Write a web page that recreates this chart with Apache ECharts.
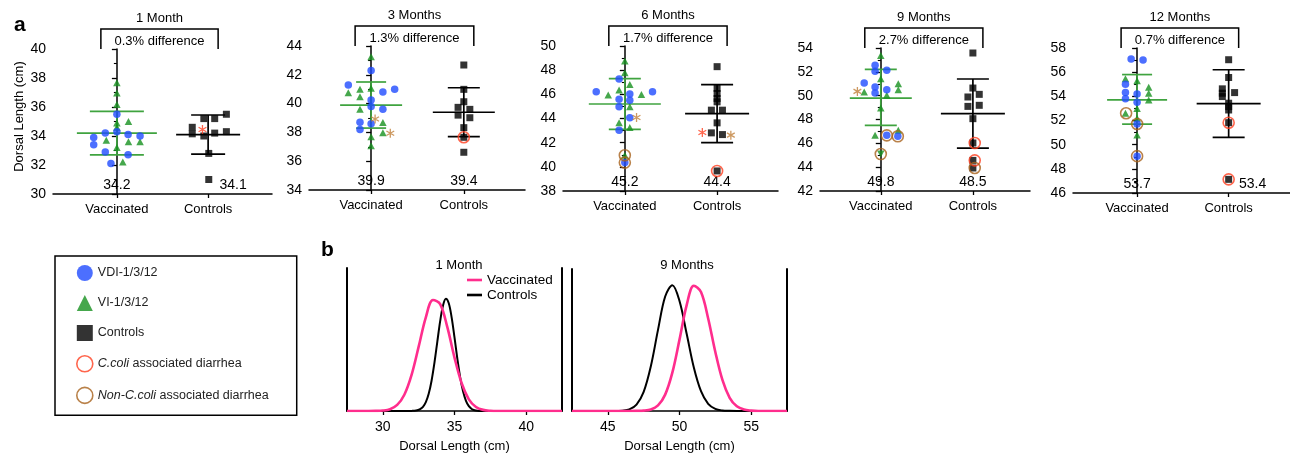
<!DOCTYPE html>
<html><head><meta charset="utf-8">
<script src="https://cdn.jsdelivr.net/npm/echarts@6/dist/echarts.min.js"></script>
<style>html,body{margin:0;padding:0;background:#fff}#c{width:1290px;height:454px}</style>
</head><body><div id="c"></div>
<script>
// ---------- DATA ----------
const panelTitles = ['1 Month', '3 Months', '6 Months', '9 Months', '12 Months'];
const differences = ['0.3% difference', '1.3% difference', '1.7% difference', '2.7% difference', '0.7% difference'];
const categories = ['Vaccinated', 'Controls'];
const yMin = [30, 34, 38, 42, 46];
const yMax = [40, 44, 50, 54, 58];
const means  = [[34.2, 34.1], [39.9, 39.4], [45.2, 44.4], [49.8, 48.5], [53.7, 53.4]];
const sdLow  = [[32.7, 32.75], [38.3, 37.7], [43.1, 42.0], [47.5, 45.6], [51.7, 50.6]];
const sdHigh = [[35.7, 35.45], [41.5, 41.1], [47.3, 46.8], [52.2, 51.4], [55.8, 56.2]];

// x = group (0 Vaccinated, 1 Controls) + jitter, y = dorsal length (cm)
const vdi = [
  [[0,35.5],[-0.127,34.2],[0,34.3],[0.123,34.1],[0.254,34.0],[-0.254,33.9],[-0.254,33.4],[-0.127,32.9],[0.123,32.7],[-0.065,32.1]],
  [[0,42.29],[-0.246,41.29],[0.254,40.99],[0.127,40.81],[0,40.25],[0,39.79],[0.127,39.6],[-0.12,38.7],[0,38.6],[-0.12,38.21]],
  [[-0.062,47.26],[-0.31,46.21],[0.30,46.21],[0.054,46.02],[-0.062,45.6],[0.054,45.52],[-0.062,44.97],[0.054,44.06],[-0.062,43.03],[0,40.35]],
  [[-0.062,52.55],[-0.062,52.04],[0.065,52.13],[-0.18,51.06],[-0.062,50.73],[-0.062,50.22],[0.065,50.5],[0.065,46.67],[0.185,46.59]],
  [[-0.065,57.09],[0.065,57.0],[-0.127,55.0],[-0.127,54.31],[0,54.2],[-0.127,53.79],[0,53.51],[0,51.71],[0,49.05]]
];
const vi = [
  [[0,37.67],[0,36.97],[0,36.17],[0,34.9],[0,34.6],[0,33.2],[-0.116,33.7],[0.127,35.0],[0.127,33.6],[0.254,33.6],[0.065,32.2]],
  [[0,43.26],[0,41.06],[-0.246,40.76],[-0.12,40.99],[-0.12,40.48],[-0.12,39.6],[0.127,38.68],[0.127,37.98],[0,37.70],[0,37.08]],
  [[0,48.76],[0,47.79],[0.054,46.82],[-0.062,46.35],[-0.18,45.94],[0.18,45.99],[0.054,44.97],[-0.062,43.64],[0.054,43.25],[0,40.96]],
  [[0,53.38],[0,51.43],[0.19,51.0],[0.19,50.5],[-0.18,50.3],[0.065,50.03],[0,48.97],[0.19,47.09],[-0.062,46.67]],
  [[-0.127,55.45],[0,55.28],[0.127,54.76],[0.127,54.26],[0.127,53.7],[0,53.0],[-0.127,52.6],[0,52.18],[0,50.79]]
];
const viInverted = [[], [], [], [[0,45.1]], []];
const controls = [
  [[0.826,34.6],[0.826,34.15],[0.953,35.2],[1.072,35.2],[1.2,35.5],[1.2,34.3],[1.072,34.2],[0.953,34.0],[1.007,32.8],[1.007,31.0]],
  [[1,42.68],[1,40.99],[1,40.13],[0.938,39.74],[1.065,39.6],[0.938,39.2],[1.065,39.02],[1,38.33],[1,37.66],[1,36.62]],
  [[1,48.29],[1,46.49],[1,46.07],[1,45.66],[1,45.38],[0.938,44.69],[1.058,44.69],[1,43.64],[0.938,42.81],[1.058,42.67],[1,39.66]],
  [[1,53.58],[1,50.64],[1.069,50.11],[0.946,49.89],[0.946,49.1],[1.069,49.19],[1,48.07],[1,46.03],[1,44.57],[1,43.93]],
  [[1,57.03],[1,55.56],[0.931,54.62],[0.931,54.26],[0.931,53.98],[1.065,54.31],[1,53.43],[1,53.15],[1,52.87],[1,51.82],[1,47.13]]
];
const cColi = [[], [[1,37.66]], [[1,39.66]], [[1.02,46.03],[1.02,44.57]], [[1,51.82],[1,47.13]]];
const nonCColi = [[], [], [[0,40.96],[0,40.35]], [[0.065,46.67],[0.185,46.59],[0,45.1],[1.02,43.93]], [[-0.12,52.6],[0,51.71],[0,49.05]]];
const asteriskRed = [[[0.938,34.45]], [], [[0.84,42.84]], [], []];
const asteriskBrown = [[], [[0.043,38.93],[0.207,37.94]], [[0.127,44.08],[1.149,42.62]], [[-0.254,50.36]], []];

// panel b: relative density curves [dorsal length (cm), relative height]
const vacc1M = [[27.5,0],[28,0],[28.5,0],[29,0],[29.5,0.001],[30,0.004],[30.5,0.016],[31,0.054],[31.5,0.145],[32,0.320],[32.5,0.573],[33,0.835],[33.5,0.989],[34,0.953],[34.5,0.747],[35,0.476],[35.5,0.247],[36,0.104],[36.5,0.036],[37,0.010],[37.5,0.002],[38,0],[38.5,0],[39,0],[39.5,0],[40,0],[40.5,0],[41,0],[41.5,0],[42,0],[42.5,0]];
const ctrl1M = [[27.5,0],[28,0],[28.5,0],[29,0],[29.5,0],[30,0],[30.5,0],[31,0],[31.5,0],[31.8,0],[32,0.001],[32.2,0.002],[32.4,0.006],[32.6,0.016],[32.8,0.037],[33,0.079],[33.2,0.153],[33.4,0.270],[33.6,0.429],[33.8,0.616],[34,0.801],[34.2,0.941],[34.4,1.0],[34.6,0.960],[34.8,0.834],[35,0.655],[35.2,0.465],[35.4,0.298],[35.6,0.173],[35.8,0.091],[36,0.043],[36.2,0.018],[36.4,0.007],[36.6,0.002],[36.8,0],[37,0],[37.5,0],[38,0],[38.5,0],[39,0],[39.5,0],[40,0],[40.5,0],[41,0],[41.5,0],[42,0],[42.5,0]];
const vacc9M = [[42.5,0],[43,0],[43.5,0],[44,0],[44.5,0],[45,0],[45.5,0],[46,0],[46.5,0],[47,0.001],[47.5,0.003],[48,0.012],[48.5,0.044],[49,0.130],[49.5,0.304],[50,0.566],[50.5,0.840],[51,0.993],[51.5,0.944],[52,0.734],[52.5,0.468],[53,0.244],[53.5,0.105],[54,0.037],[54.5,0.011],[55,0.003],[55.5,0],[56,0],[56.5,0],[57,0],[57.5,0]];
const ctrl9M = [[42.5,0],[43,0],[43.5,0],[44,0],[44.5,0],[45,0],[45.5,0],[46,0.003],[46.5,0.013],[47,0.051],[47.5,0.152],[48,0.355],[48.5,0.643],[49,0.908],[49.5,0.998],[50,0.872],[50.5,0.612],[51,0.345],[51.5,0.157],[52,0.057],[52.5,0.017],[53,0.004],[53.5,0.001],[54,0],[54.5,0],[55,0],[55.5,0],[56,0],[56.5,0],[57,0],[57.5,0]];
const densTicks1M = [30, 35, 40];
const densTicks9M = [45, 50, 55];
const densTitles = ['1 Month', '9 Months'];

// ---------- STYLE ----------
const FONT = '"Liberation Sans", Arial, Helvetica, sans-serif';
const BLUE = '#1F4BFF', GREEN = '#17911F', LINEGREEN = '#3FA33F', RED = '#FF3F1F', BROWN = '#A8621C', BROWN_AST = '#C0803A', PINK = '#FF2D8D';
const gridsA = [
  {left:53, top:49, width:219, height:145},
  {left:309, top:46, width:216, height:144},
  {left:563, top:46, width:215, height:145},
  {left:820, top:48, width:210, height:143},
  {left:1073, top:48, width:217, height:145}
];
const xRanges = [[-0.70,1.70],[-0.67,1.66],[-0.67,1.66],[-0.66,1.62],[-0.70,1.67]];
const meanHalf = [[40,32],[31,31],[36,32],[31,32],[30,32]];
const capHalf = [[27,17],[15,16],[16,16],[16,16],[15,16]];
const meanLabelShift = [[0,25],[0,0],[0,0],[0,0],[0,24]];
const ASTERISK = 'path://M5,0L5,10M0.67,2.5L9.33,7.5M0.67,7.5L9.33,2.5';

const chart = echarts.init(document.getElementById('c'), null, {renderer:'canvas'});

const grid = gridsA.slice();
grid.push({left:347, top:268, width:215, height:144});
grid.push({left:572, top:269, width:215, height:143});

const xAxis = [], yAxis = [], series = [];
for (let p = 0; p < 5; p++) {
  xAxis.push({
    type:'value', gridIndex:p, min:xRanges[p][0], max:xRanges[p][1],
    axisLine:{show:true, onZero:false, lineStyle:{color:'#000', width:1.5}},
    axisTick:{show:true, customValues:[0,1], length:4, lineStyle:{color:'#000', width:1.3}},
    axisLabel:{show:true, customValues:[0,1], formatter:v => categories[Math.round(v)], fontSize:13, color:'#000', fontFamily:FONT, margin:9},
    splitLine:{show:false}
  });
  yAxis.push({
    type:'value', gridIndex:p, min:yMin[p], max:yMax[p], interval:2,
    name: p === 0 ? 'Dorsal Length (cm)' : '', nameLocation:'middle', nameGap:27,
    nameTextStyle:{fontSize:13, color:'#000', fontFamily:FONT, padding:[0,0,0,10]},
    axisLine:{show:true, lineStyle:{color:'#000', width:1.5}},
    axisTick:{show:true, length:5, lineStyle:{color:'#000', width:1.3}},
    minorTick:{show:true, splitNumber:2, length:3, lineStyle:{color:'#000', width:1.1}},
    axisLabel:{fontSize:14, color:'#000', fontFamily:FONT, margin:7},
    splitLine:{show:false}, minorSplitLine:{show:false}
  });
}
// panel b axes
const densX = [[27.5,42.5,densTicks1M],[42.5,57.5,densTicks9M]];
const densYMax = [1.274, 1.126];
for (let k = 0; k < 2; k++) {
  xAxis.push({
    type:'value', gridIndex:5+k, min:densX[k][0], max:densX[k][1],
    name:'Dorsal Length (cm)', nameLocation:'middle', nameGap:29,
    nameTextStyle:{fontSize:13, color:'#000', fontFamily:FONT},
    axisLine:{show:true, onZero:false, lineStyle:{color:'#000', width:1.5}},
    axisTick:{show:true, customValues:densX[k][2], length:4, lineStyle:{color:'#000', width:1.3}},
    axisLabel:{show:true, customValues:densX[k][2], fontSize:14, color:'#000', fontFamily:FONT, margin:9},
    splitLine:{show:false}
  });
  for (const pos of ['left','right']) {
    yAxis.push({
      type:'value', gridIndex:5+k, position:pos, min:0, max:densYMax[k],
      axisLine:{show:true, lineStyle:{color:'#000', width:2}},
      axisTick:{show:false}, axisLabel:{show:false}, splitLine:{show:false}
    });
  }
}

function errRender(p) {
  return function (params, api) {
    const g = api.value(0);
    const pm = api.coord([g, api.value(1)]);
    const pl = api.coord([g, api.value(2)]);
    const ph = api.coord([g, api.value(3)]);
    const c = g === 0 ? LINEGREEN : '#000';
    const hw = meanHalf[p][g], cw = capHalf[p][g];
    const st = {stroke:c, lineWidth:1.7};
    return {type:'group', children:[
      {type:'line', shape:{x1:pm[0]-hw, y1:pm[1], x2:pm[0]+hw, y2:pm[1]}, style:st},
      {type:'line', shape:{x1:ph[0]-cw, y1:ph[1], x2:ph[0]+cw, y2:ph[1]}, style:st},
      {type:'line', shape:{x1:pl[0]-cw, y1:pl[1], x2:pl[0]+cw, y2:pl[1]}, style:st},
      {type:'line', shape:{x1:ph[0], y1:ph[1], x2:pl[0], y2:pl[1]}, style:st}
    ]};
  };
}
function bracketRender(p) {
  return function (params, api) {
    const a = api.coord([0, yMax[p]]), b = api.coord([1, yMax[p]]);
    const top = a[1];
    const xl = a[0] - 16, xr = b[0] + 10, yb = top - 20, cx = (xl + xr) / 2;
    return {type:'group', children:[
      {type:'polyline', shape:{points:[[xl, top], [xl, yb], [xr, yb], [xr, top]]}, style:{stroke:'#000', lineWidth:1.5, fill:null}},
      {type:'text', x:cx, y:top-31, style:{text:panelTitles[p], fill:'#000', fontSize:13, fontFamily:FONT, align:'center', verticalAlign:'middle'}},
      {type:'text', x:cx, y:top-8, style:{text:differences[p], fill:'#000', fontSize:13, fontFamily:FONT, align:'center', verticalAlign:'middle'}}
    ]};
  };
}
function meanLabelRender(p) {
  return function (params, api) {
    const g = api.value(0);
    const pt = api.coord([g, api.value(1)]);
    return {type:'text', x:pt[0] + meanLabelShift[p][g], y:pt[1] - 8.5,
      style:{text:api.value(2).toFixed(1), fill:'#000', fontSize:14, fontFamily:FONT, align:'center', verticalAlign:'middle'}};
  };
}

for (let p = 0; p < 5; p++) {
  const ax = {xAxisIndex:p, yAxisIndex:p};
  series.push(Object.assign({type:'custom', silent:true, z:2, renderItem:errRender(p),
    data:[[0, means[p][0], sdLow[p][0], sdHigh[p][0]], [1, means[p][1], sdLow[p][1], sdHigh[p][1]]]}, ax));
  series.push(Object.assign({type:'custom', silent:true, z:2, renderItem:bracketRender(p), data:[[0, yMax[p]]]}, ax));
  series.push(Object.assign({type:'custom', silent:true, z:2, renderItem:meanLabelRender(p),
    data:[[0, yMin[p], means[p][0]], [1, yMin[p], means[p][1]]]}, ax));
  series.push(Object.assign({type:'scatter', name:'VI-1/3/12', symbol:'triangle', symbolSize:[7.5,7], z:3,
    itemStyle:{color:GREEN}, data:vi[p]}, ax));
  if (viInverted[p].length) {
    series.push(Object.assign({type:'scatter', name:'VI-1/3/12', symbol:'triangle', symbolRotate:180, symbolSize:[7.5,7], z:3,
      itemStyle:{color:GREEN}, data:viInverted[p]}, ax));
  }
  series.push(Object.assign({type:'scatter', name:'VDI-1/3/12', symbol:'circle', symbolSize:7.5, z:4,
    itemStyle:{color:BLUE}, data:vdi[p]}, ax));
  series.push(Object.assign({type:'scatter', name:'Controls', symbol:'rect', symbolSize:7, z:4,
    itemStyle:{color:'#000'}, data:controls[p]}, ax));
  series.push(Object.assign({type:'scatter', name:'C.coli associated diarrhea', symbol:'circle', symbolSize:11, z:5,
    itemStyle:{color:'rgba(255,255,255,0)', borderColor:RED, borderWidth:1.6}, data:cColi[p]}, ax));
  series.push(Object.assign({type:'scatter', name:'Non-C.coli associated diarrhea', symbol:'circle', symbolSize:11, z:5,
    itemStyle:{color:'rgba(255,255,255,0)', borderColor:BROWN, borderWidth:1.6}, data:nonCColi[p]}, ax));
  series.push(Object.assign({type:'scatter', name:'asterisk-red', symbol:ASTERISK, symbolSize:9, symbolKeepAspect:true, z:5,
    itemStyle:{color:'none', borderColor:RED, borderWidth:1.3}, data:asteriskRed[p]}, ax));
  series.push(Object.assign({type:'scatter', name:'asterisk-brown', symbol:ASTERISK, symbolSize:9, symbolKeepAspect:true, z:5,
    itemStyle:{color:'none', borderColor:BROWN_AST, borderWidth:1.3}, data:asteriskBrown[p]}, ax));
}
// density curves
const dens = [[ctrl1M, vacc1M], [ctrl9M, vacc9M]];
for (let k = 0; k < 2; k++) {
  series.push({type:'line', name:'Controls ', xAxisIndex:5+k, yAxisIndex:5+2*k, data:dens[k][0], smooth:0.35,
    showSymbol:false, symbol:'none', lineStyle:{color:'#000', width:2}, itemStyle:{color:'#000'}, z:3});
  series.push({type:'line', name:'Vaccinated', xAxisIndex:5+k, yAxisIndex:5+2*k, data:dens[k][1], smooth:0.35,
    showSymbol:false, symbol:'none', lineStyle:{color:PINK, width:2.6}, itemStyle:{color:PINK}, z:4});
}

const option = {
  animation:false,
  textStyle:{fontFamily:FONT},
  title:[
    {text:'a', left:9, top:10, textStyle:{fontSize:21, fontWeight:'bold', color:'#000', fontFamily:FONT}},
    {text:'b', left:316, top:235, textStyle:{fontSize:21, fontWeight:'bold', color:'#000', fontFamily:FONT}},
    {text:densTitles[0], left:454, top:254, textAlign:'center', textStyle:{fontSize:13, fontWeight:'normal', color:'#000', fontFamily:FONT}},
    {text:densTitles[1], left:682, top:254, textAlign:'center', textStyle:{fontSize:13, fontWeight:'normal', color:'#000', fontFamily:FONT}}
  ],
  legend:[
    {
      data:['VDI-1/3/12', 'VI-1/3/12', 'Controls', 'C.coli associated diarrhea', 'Non-C.coli associated diarrhea'],
      orient:'vertical', left:55, top:256, padding:[9, 28, 11, 21], itemGap:14, itemWidth:16, itemHeight:16,
      borderColor:'#000', borderWidth:1.5, selectedMode:false,
      itemStyle:{borderWidth:'inherit'},
      formatter:function (name) {
        if (name.indexOf('Non-C.coli') === 0) return '{i|Non-C.coli} associated diarrhea';
        if (name.indexOf('C.coli') === 0) return '{i|C.coli} associated diarrhea';
        return name;
      },
      textStyle:{fontSize:12.5, color:'#222', fontFamily:FONT,
        rich:{i:{fontStyle:'italic', fontSize:12.5, color:'#222', fontFamily:FONT}}}
    },
    {
      data:[{name:'Vaccinated', icon:'rect'}, {name:'Controls ', icon:'rect'}],
      orient:'vertical', left:467, top:273, itemGap:1, itemWidth:15, itemHeight:2.6,
      selectedMode:false, padding:0,
      textStyle:{fontSize:13.5, color:'#000', fontFamily:FONT, lineHeight:13}
    }
  ],
  grid:grid, xAxis:xAxis, yAxis:yAxis, series:series
};
chart.setOption(option);
</script></body></html>
